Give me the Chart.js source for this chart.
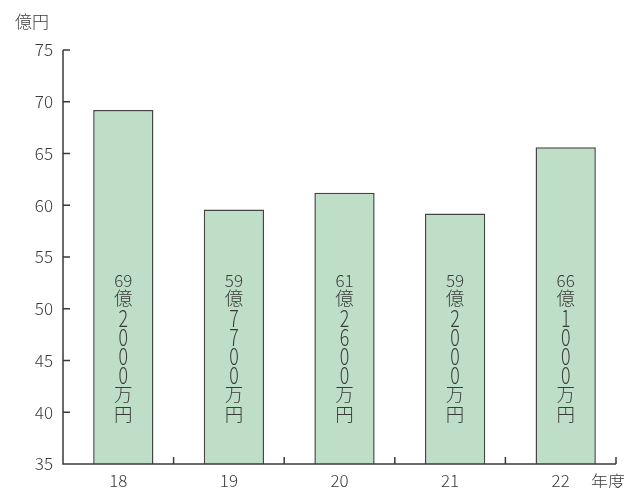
<!DOCTYPE html>
<html>
<head>
<meta charset="utf-8">
<script src="https://cdn.jsdelivr.net/npm/chart.js@4"></script>
<style>
  html, body { margin: 0; padding: 0; background: #fff; }
  #wrap { width: 642px; height: 488px; }
</style>
</head>
<body>
<div id="wrap"><canvas id="myChart" width="642" height="488"></canvas></div>
<script>
// データ
const years = ['18', '19', '20', '21', '22'];
const amounts = [69.2, 59.6, 61.2, 59.2, 65.6];   // 億円 (bar heights as drawn)
const amountLabels = [
  ['69', '億', '2', '0', '0', '0', '万', '円'],
  ['59', '億', '7', '7', '0', '0', '万', '円'],
  ['61', '億', '2', '6', '0', '0', '万', '円'],
  ['59', '億', '2', '0', '0', '0', '万', '円'],
  ['66', '億', '1', '0', '0', '0', '万', '円']
];
const yTicks = [35, 40, 45, 50, 55, 60, 65, 70, 75];

const FONT = '"Noto Sans CJK JP", "DejaVu Sans", sans-serif';
const INK = '#3a3a3a';
const BAR_SHIFT = 5;

// 軸と目盛り（内向き）を描く
const axisPlugin = {
  id: 'axisPlugin',
  afterDraw(chart) {
    const ctx = chart.ctx;
    const x = chart.scales.x, y = chart.scales.y;
    const a = chart.chartArea;
    ctx.save();
    ctx.strokeStyle = INK;
    ctx.lineWidth = 1.5;
    ctx.beginPath();
    ctx.moveTo(a.left, a.top);
    ctx.lineTo(a.left, a.bottom);
    ctx.lineTo(a.right, a.bottom);
    yTicks.forEach(v => {
      const py = y.getPixelForValue(v);
      ctx.moveTo(a.left, py);
      ctx.lineTo(a.left + 7, py);
    });
    for (let i = 0; i < years.length; i++) {
      const px = i < years.length - 1
        ? (x.getPixelForValue(i) + x.getPixelForValue(i + 1)) / 2
        : a.right;
      ctx.moveTo(px, a.bottom);
      ctx.lineTo(px, a.bottom - 7);
    }
    ctx.stroke();

    // 単位
    ctx.fillStyle = INK;
    ctx.font = '300 17px ' + FONT;
    ctx.textAlign = 'center';
    ctx.textBaseline = 'middle';
    ctx.fillText('億円', 32, 22);
    ctx.fillText('年度', 608, 482);

    // 棒の中の縦書きラベル
    const meta = chart.getDatasetMeta(0);
    const topY = y.getPixelForValue(75) + 231;
    const isDigit = c => /^[0-9]+$/.test(c);
    const hOf = c => c.length > 1 ? 12 : (isDigit(c) ? 17 : 18);
    meta.data.forEach((bar, i) => {
      const chars = amountLabels[i];
      let cy = topY;
      chars.forEach((c, j) => {
        if (j > 0) cy += (hOf(chars[j - 1]) + hOf(c)) / 2 + 2;
        const cx = bar.x + BAR_SHIFT;
        if (c.length === 1 && isDigit(c)) {
          ctx.save();
          ctx.translate(cx, cy);
          ctx.scale(1.05, 1.4);
          ctx.font = '300 17px ' + FONT;
          ctx.fillText(c, 0, 0);
          ctx.restore();
        } else if (isDigit(c)) {
          ctx.font = '300 17px ' + FONT;
          ctx.fillText(c, cx, cy);
        } else {
          ctx.font = '300 18.5px ' + FONT;
          ctx.fillText(c, cx, cy);
        }
      });
    });
    ctx.restore();
  }
};

// 棒を少し右にずらす
const shiftPlugin = {
  id: 'shiftPlugin',
  beforeDatasetDraw(chart) { chart.ctx.save(); chart.ctx.translate(BAR_SHIFT, 0); },
  afterDatasetDraw(chart) { chart.ctx.restore(); }
};

const ctx = document.getElementById('myChart').getContext('2d');
const myChart = new Chart(ctx, {
  type: 'bar',
  data: {
    labels: years,
    datasets: [{
      data: amounts,
      backgroundColor: '#bfdec7',
      borderColor: '#444',
      borderWidth: 1.5,
      barPercentage: 0.545,
      categoryPercentage: 1.0
    }]
  },
  options: {
    responsive: false,
    animation: false,
    layout: { padding: { top: 50, right: 26, left: 0, bottom: 0 } },
    plugins: { legend: { display: false }, tooltip: { enabled: false } },
    scales: {
      x: {
        grid: { display: false, drawTicks: false },
        border: { display: false },
        ticks: { color: INK, font: { family: FONT, size: 17, weight: 300 }, padding: 6 },
        afterFit(s) { s.height = 24; }
      },
      y: {
        min: 35,
        max: 75,
        grid: { display: false, drawTicks: false },
        border: { display: false },
        ticks: { stepSize: 5, color: INK, font: { family: FONT, size: 17, weight: 300 }, padding: 10 },
        afterFit(s) { s.width = 63; }
      }
    }
  },
  plugins: [shiftPlugin, axisPlugin]
});
</script>
</body>
</html>
